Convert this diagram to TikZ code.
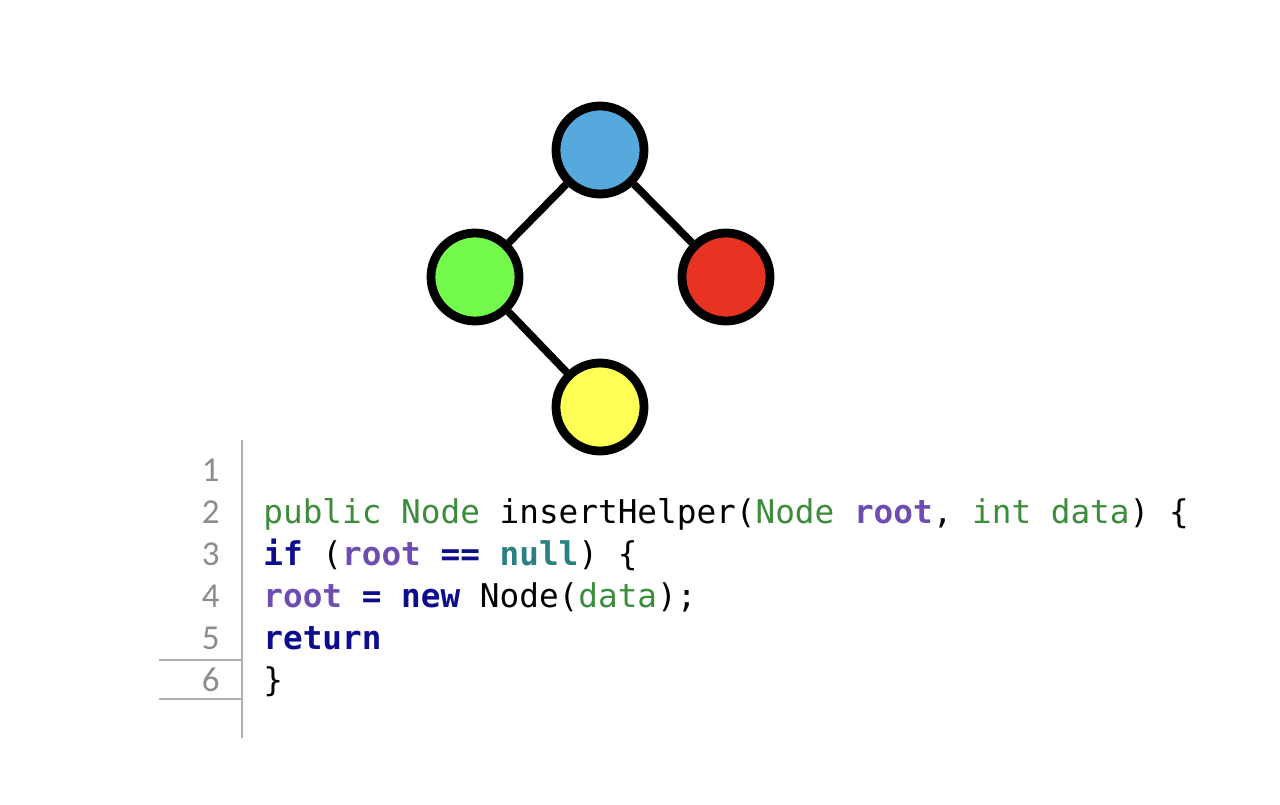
\documentclass[tikz,border=0pt]{standalone}
\usepackage{fontspec}
\setmonofont{DejaVu Sans Mono}
\newfontfamily\numfont{Carlito}
\usepackage{xcolor}
\definecolor{treeblue}{HTML}{55A9DC}
\definecolor{treegreen}{HTML}{74FA4C}
\definecolor{treered}{HTML}{E83323}
\definecolor{treeyellow}{HTML}{FFFF55}
\definecolor{kwnavy}{HTML}{0C0C8E}
\definecolor{typegreen}{HTML}{3C8C3C}
\definecolor{varpurple}{HTML}{6E4DB3}
\definecolor{litteal}{HTML}{2A8082}
\definecolor{gutter}{HTML}{8C8C8C}
\newcommand{\codekw}[1]{\textcolor{kwnavy}{\bfseries #1}}
\newcommand{\codetype}[1]{\textcolor{typegreen}{#1}}
\newcommand{\codevar}[1]{\textcolor{varpurple}{\bfseries #1}}
\newcommand{\codelit}[1]{\textcolor{litteal}{\bfseries #1}}
\tikzset{
	treenode/.style={circle, draw=black, line width=4.4pt, minimum size=44pt, inner sep=0pt},
	treeedge/.style={line width=3.8pt, black},
	codeline/.style={anchor=base west, inner sep=0pt, font=\ttfamily\fontsize{16.35}{16.35}\selectfont},
	lineno/.style={anchor=base east, inner sep=0pt, text=gutter, font=\numfont\fontsize{17.5}{17.5}\selectfont},
	gutterline/.style={draw=gutter!70, line width=1pt}
}

\begin{document}
\begin{tikzpicture}[x=0.5pt, y=-0.5pt]
	\useasboundingbox (0, 0) rectangle (1280, 804);

	% Draw the tree nodes
	\node[treenode, fill=treeblue] (root) at (600, 150) {};
	\node[treenode, fill=treegreen] (lchild) at (475, 277) {};
	\node[treenode, fill=treered] (rchild) at (726, 277) {};
	\node[treenode, fill=treeyellow] (lrchild) at (600, 407) {};

	% Draw the tree edges
	\draw[treeedge] (root) -- (lchild);
	\draw[treeedge] (root) -- (rchild);
	\draw[treeedge] (lchild) -- (lrchild);

	% Draw the gutter
	\coordinate (gtop) at (242, 440);
	\coordinate (gbot) at (242, 738);
	\draw[gutterline] (gtop) -- (gbot);
	\coordinate (sel1) at (159, 660);
	\coordinate (sel2) at (159, 699);
	\draw[gutterline] (sel1) -- (sel1 -| gtop);
	\draw[gutterline] (sel2) -- (sel2 -| gtop);

	% Line numbers
	\foreach \i in {1,...,6}
		\node[lineno] (num\i) at (220, {481 + 42*(\i-1)}) {\i};

	% Draw the code
	\node[codeline] (code2) at (263, 523) {\codetype{public Node} insertHelper(\codetype{Node} \codevar{root}, \codetype{int data}) \{};
	\node[codeline] (code3) at (263, 565) {\codekw{if} (\codevar{root} \codekw{==} \codelit{null}) \{};
	\node[codeline] (code4) at (263, 607) {\codevar{root} \codekw{=} \codekw{new} Node(\codetype{data});};
	\node[codeline] (code5) at (263, 649) {\codekw{return}};
	\node[codeline] (code6) at (263, 691) {\}};
\end{tikzpicture}
\end{document}
